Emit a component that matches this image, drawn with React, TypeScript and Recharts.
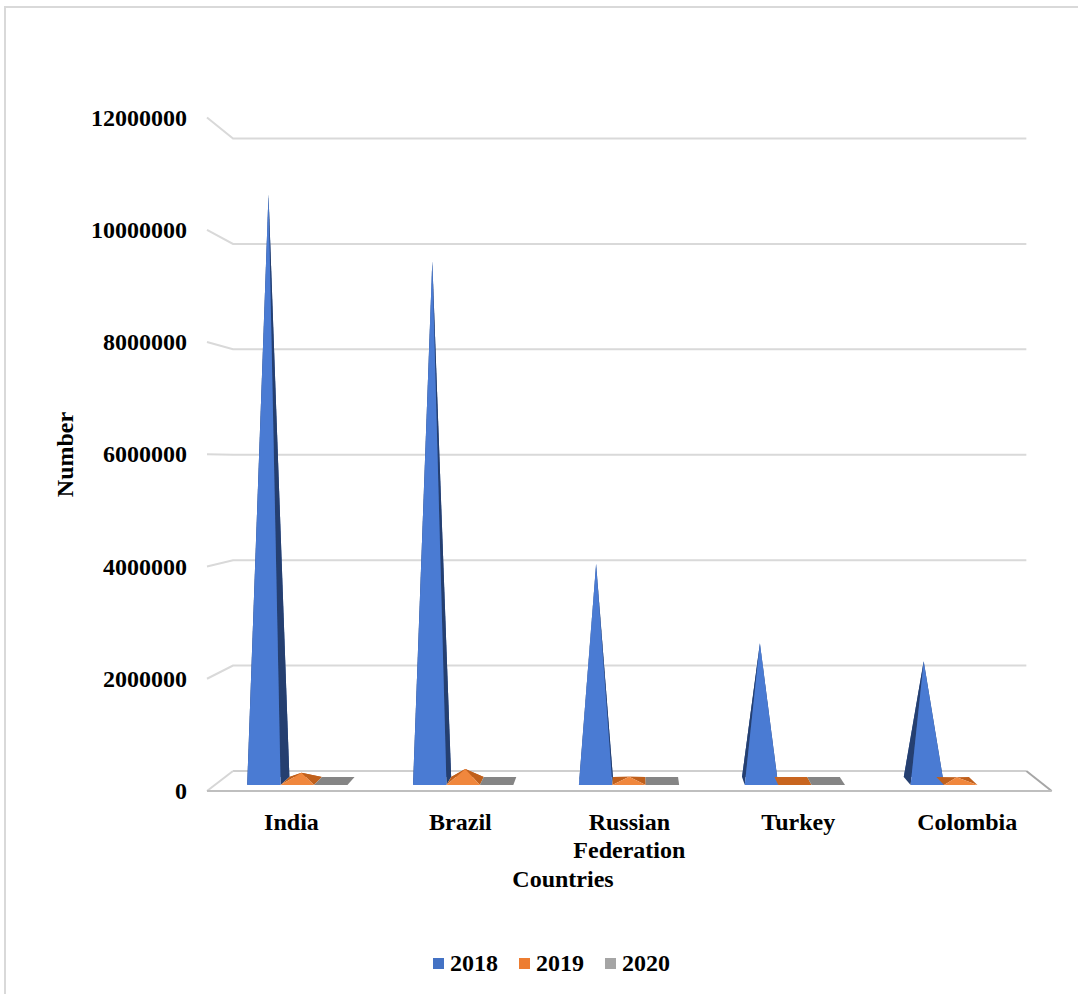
import React from 'react';
import { BarChart, Bar, XAxis, YAxis, CartesianGrid, Legend } from 'recharts';

// ---- data ----
const countries = ['India', 'Brazil', 'Russian Federation', 'Turkey', 'Colombia'];
const cases2018 = [10780000, 9550000, 3990000, 2530000, 2200000];
const cases2019 = [150000, 220000, 80000, 0, 70000];
const cases2020: (number | null)[] = [0, 0, 0, 0, null];
const yTicks = [0, 2000000, 4000000, 6000000, 8000000, 10000000, 12000000];

const data = countries.map((country, i) => ({
  country,
  y2018: cases2018[i],
  y2019: cases2019[i],
  y2020: cases2020[i],
}));

// ---- layout ----
const W = 1078;
const H = 994;
const MARGIN = { top: 128, right: 39, bottom: 13, left: 20 };
const Y_AXIS_W = 200;
const X_AXIS_H = 170;
const LEGEND_H = 30;
const PLOT_BOTTOM = H - MARGIN.bottom - X_AXIS_H - LEGEND_H;
const FONT = '"Liberation Serif", "Times New Roman", serif';

// simple one-point perspective for the 3-D look
const VP_X = 635;
const VP_DIST = 319;
const VP_Y = PLOT_BOTTOM - VP_DIST;
const FLOOR_FRONT = 10;
const FLOOR_BACK = -10;
const BASE_FRONT = 4;
const BASE_BACK = -4;

type Pt = [number, number];
const proj = (x: number, y: number, d: number): Pt => {
  const f = 1 + d / VP_DIST;
  return [VP_X + (x - VP_X) * f, VP_Y + (y - VP_Y) * f];
};
const pts = (...ps: Pt[]) => ps.map((p) => `${p[0]},${p[1]}`).join(' ');

const series = [
  { key: 'y2018', name: '2018', color: '#4472C4', face: '#4a7bd3', side: '#253f70', back: '#2f5597', flat: '#2f5597' },
  { key: 'y2019', name: '2019', color: '#ED7D31', face: '#f0873d', side: '#c0601c', back: '#c55a11', flat: '#c8651f' },
  { key: 'y2020', name: '2020', color: '#A5A5A5', face: '#a0a0a0', side: '#7a7a7a', back: '#808080', flat: '#858585' },
];

type Series = (typeof series)[number];

const makePyramid = (s: Series) => (props: any) => {
  const { x, y, width, height, payload } = props;
  const v = payload ? payload[s.key] : null;
  if (v == null || !Number.isFinite(x) || !Number.isFinite(y)) return <g />;
  const base = y + (height || 0);
  const FL = proj(x, base, BASE_FRONT);
  const FR = proj(x + width, base, BASE_FRONT);
  const BL = proj(x, base, BASE_BACK);
  const BR = proj(x + width, base, BASE_BACK);
  if (v === 0) {
    return <polygon points={pts(FL, FR, BR, BL)} fill={s.flat} />;
  }
  const T: Pt = [x + width / 2, y];
  return (
    <g>
      <polygon points={pts(BL, BR, T)} fill={s.back} />
      <polygon points={pts(FL, BL, T)} fill={s.side} />
      <polygon points={pts(FR, BR, T)} fill={s.side} />
      <polygon points={pts(FL, FR, T)} fill={s.face} />
    </g>
  );
};

// back-wall gridlines with the side-wall elbow, and the floor at zero
const renderGridLine = (props: any) => {
  const { x1, x2, y1 } = props;
  const isFloor = Math.abs(y1 - PLOT_BOTTOM) < 1;
  const fl = proj(x1, y1, FLOOR_FRONT);
  const bl = proj(x1, y1, FLOOR_BACK);
  const br = proj(x2, y1, FLOOR_BACK);
  const fr = proj(x2, y1, FLOOR_FRONT);
  if (isFloor) {
    return (
      <g key={props.key}>
        <line x1={bl[0]} y1={bl[1]} x2={br[0]} y2={br[1]} stroke="#cfcfcf" strokeWidth={2} />
        <line x1={fl[0]} y1={fl[1]} x2={bl[0]} y2={bl[1]} stroke="#d6d6d6" strokeWidth={2} />
        <line x1={br[0]} y1={br[1]} x2={fr[0]} y2={fr[1]} stroke="#a6a6a6" strokeWidth={2} />
        <line x1={fl[0]} y1={fl[1]} x2={fr[0]} y2={fr[1]} stroke="#bfbfbf" strokeWidth={2} />
      </g>
    );
  }
  return (
    <polyline
      key={props.key}
      points={pts(fl, bl, br)}
      fill="none"
      stroke="#d9d9d9"
      strokeWidth={2}
    />
  );
};

const YTick = (props: any) => {
  const { y, payload } = props;
  const fy = proj(0, y, FLOOR_FRONT)[1];
  return (
    <text x={187} y={fy + 8} textAnchor="end" fontFamily={FONT} fontWeight="bold" fontSize={24} fill="#000">
      {payload.value}
    </text>
  );
};

const XTick = (props: any) => {
  const { x, y, payload } = props;
  const fx = proj(x, y, FLOOR_FRONT)[0];
  const words = String(payload.value).split(' ');
  return (
    <text textAnchor="middle" fontFamily={FONT} fontWeight="bold" fontSize={24} fill="#000">
      {words.map((w, i) => (
        <tspan key={i} x={fx} y={y + 49 + i * 28}>
          {w}
        </tspan>
      ))}
    </text>
  );
};

const renderLegend = (props: any) => {
  const payload = props.payload || [];
  return (
    <div style={{ display: 'flex', alignItems: 'center', height: LEGEND_H, paddingLeft: 433 }}>
      {payload.map((entry: any) => (
        <div key={entry.value} style={{ display: 'flex', alignItems: 'center', marginRight: 21 }}>
          <span style={{ display: 'inline-block', width: 11, height: 11, background: entry.color, marginRight: 6 }} />
          <span style={{ fontFamily: FONT, fontWeight: 'bold', fontSize: 24, color: '#000', lineHeight: '30px' }}>
            {entry.value}
          </span>
        </div>
      ))}
    </div>
  );
};

export default function App() {
  return (
    <div style={{ position: 'absolute', left: 0, top: 0, width: W, height: H, background: '#fff' }}>
      <div
        style={{
          position: 'absolute',
          left: 4,
          top: 6,
          width: W - 4,
          height: H - 6,
          borderTop: '2px solid #d9d9d9',
          borderLeft: '2px solid #d9d9d9',
          boxSizing: 'border-box',
        }}
      />
      <div style={{ position: 'absolute', left: 0, top: 0 }}>
        <BarChart width={W} height={H} data={data} margin={MARGIN} barGap={0} barSize={33}>
          <CartesianGrid vertical={false} horizontal={renderGridLine} />
          <XAxis
            dataKey="country"
            height={X_AXIS_H}
            axisLine={false}
            tickLine={false}
            tickSize={0}
            tickMargin={0}
            interval={0}
            tick={<XTick />}
            label={{
              value: 'Countries',
              content: (p: any) => {
                const vb = p.viewBox || {};
                return (
                  <text
                    x={vb.x + 343}
                    y={vb.y + 106}
                    textAnchor="middle"
                    fontFamily={FONT}
                    fontWeight="bold"
                    fontSize={24}
                    fill="#000"
                  >
                    Countries
                  </text>
                );
              },
            }}
          />
          <YAxis
            width={Y_AXIS_W}
            domain={[0, 12000000]}
            ticks={yTicks}
            interval={0}
            axisLine={false}
            tickLine={false}
            tick={<YTick />}
            label={{
              value: 'Number',
              content: (p: any) => {
                const vb = p.viewBox || {};
                const cx = vb.x + 45;
                const cy = vb.y + vb.height / 2;
                return (
                  <text
                    x={cx}
                    y={cy}
                    transform={`rotate(-90 ${cx} ${cy})`}
                    textAnchor="middle"
                    dominantBaseline="central"
                    fontFamily={FONT}
                    fontWeight="bold"
                    fontSize={24}
                    fill="#000"
                  >
                    Number
                  </text>
                );
              },
            }}
          />
          <Legend
            content={renderLegend}
            wrapperStyle={{ position: 'absolute', left: 0, top: 948, bottom: 'auto', width: W, height: LEGEND_H }}
          />
          {series.map((s) => (
            <Bar
              key={s.key}
              dataKey={s.key}
              name={s.name}
              fill={s.color}
              isAnimationActive={false}
              shape={makePyramid(s)}
            />
          ))}
        </BarChart>
      </div>
    </div>
  );
}
